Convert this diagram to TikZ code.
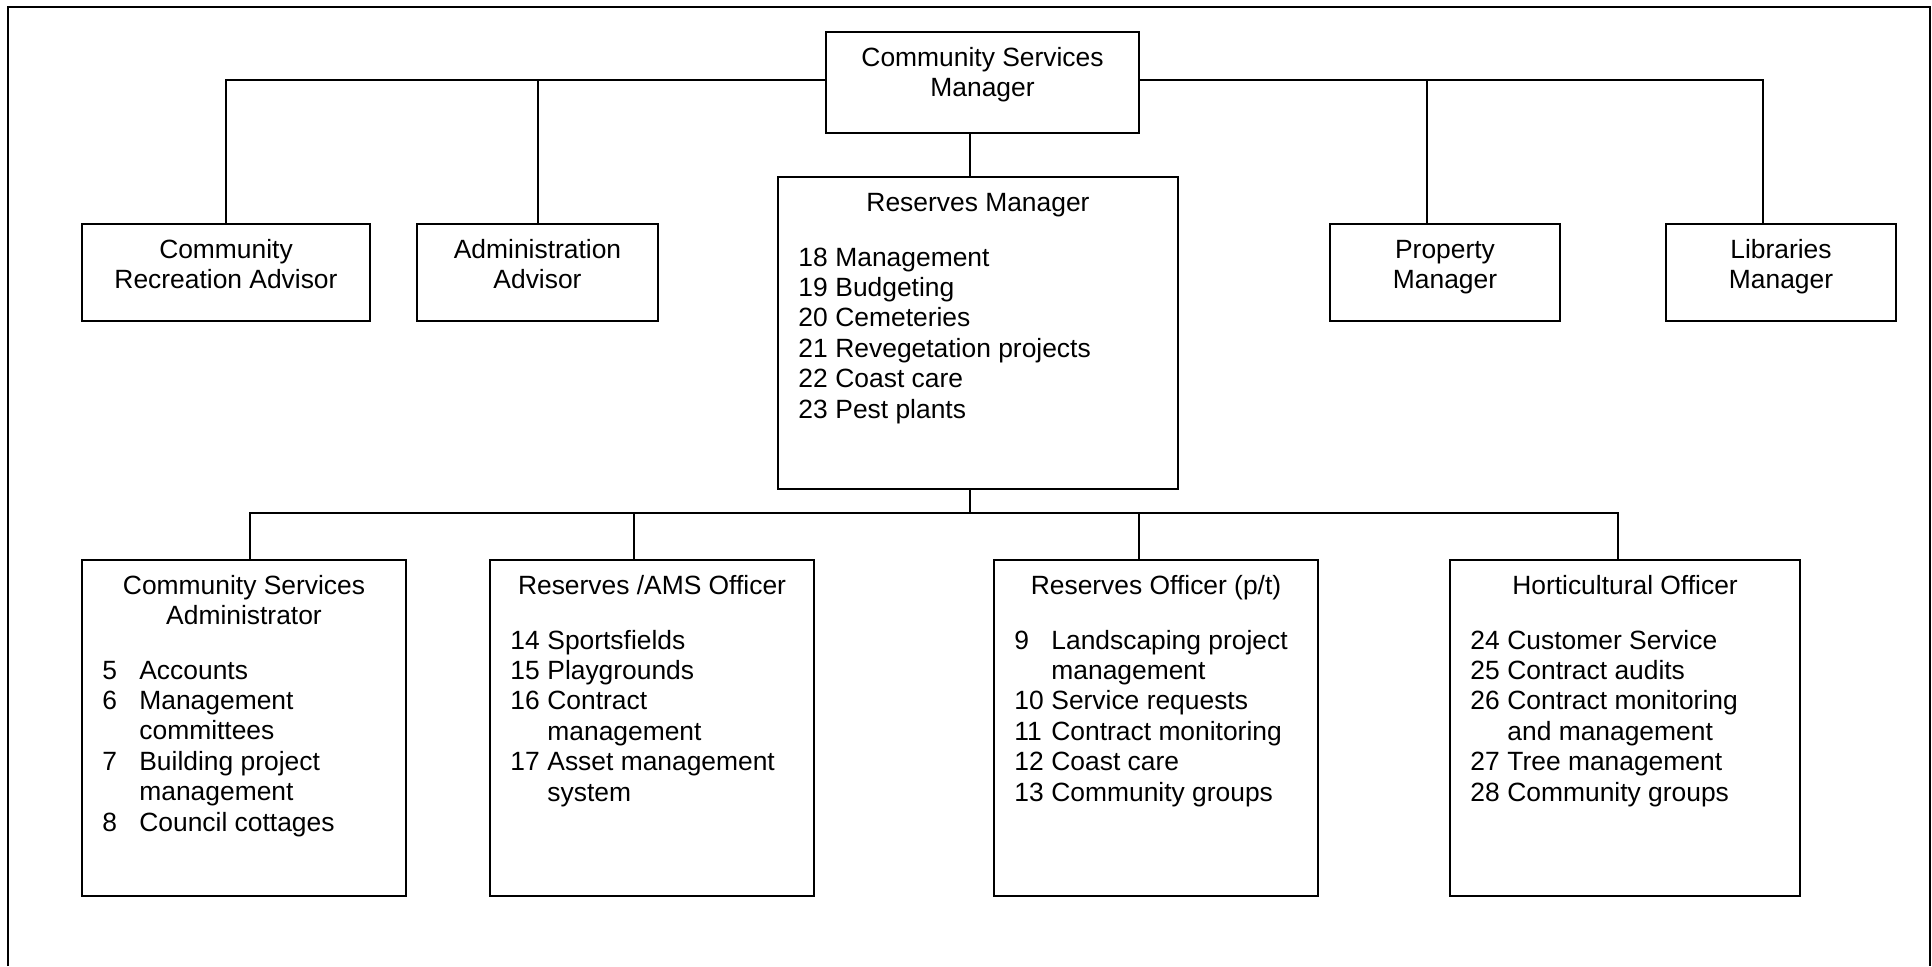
\documentclass[tikz,border=0pt]{standalone}
\usepackage{fontspec}
\setmainfont{Liberation Sans}
\usetikzlibrary{positioning,calc}
\newcommand{\duty}[2]{\makebox[18.5pt][l]{#1}#2}

\begin{document}
\begin{tikzpicture}[x=0.5pt, y=-0.5pt,
    every node/.style={font=\fontsize{13.2pt}{15.2pt}\selectfont},
    box/.style={draw, line width=1pt, inner sep=0pt},
    head/.style={anchor=base, inner sep=0pt},
    duties/.style={anchor=base west, inner sep=0pt},
    link/.style={line width=1pt}]
  \useasboundingbox (0,0) rectangle (1932,966);
  \draw[line width=1pt] (8,966) -- (8,7) -- (1930,7) -- (1930,966);

  % top row
  \node[box, minimum width=156.5pt, minimum height=50.5pt] (csm) at (982.5,82.5) {};
  \node[box, minimum width=144pt, minimum height=48.5pt] (cra) at (226,272.5) {};
  \node[box, minimum width=120.5pt, minimum height=48.5pt] (adm) at (537.5,272.5) {};
  \node[box, minimum width=115pt, minimum height=48.5pt] (prop) at (1445,272.5) {};
  \node[box, minimum width=115pt, minimum height=48.5pt] (lib) at (1781,272.5) {};
  \node[box, minimum width=200pt, minimum height=156pt] (rm) at (978,333) {};

  % bottom row
  \node[box, minimum width=162pt, minimum height=168pt] (csa) at (244,728) {};
  \node[box, minimum width=162pt, minimum height=168pt] (rams) at (652,728) {};
  \node[box, minimum width=162pt, minimum height=168pt] (ro) at (1156,728) {};
  \node[box, minimum width=175pt, minimum height=168pt] (ho) at (1625,728) {};

  % titles
  \node[head] (csm-t) at ([yshift=-17.5pt]csm.north)
    {\begin{tabular}[t]{@{}c@{}}Community Services\\Manager\end{tabular}};
  \node[head] (cra-t) at ([yshift=-17.5pt]cra.north)
    {\begin{tabular}[t]{@{}c@{}}Community\\Recreation Advisor\end{tabular}};
  \node[head] (adm-t) at ([yshift=-17.5pt]adm.north)
    {\begin{tabular}[t]{@{}c@{}}Administration\\Advisor\end{tabular}};
  \node[head] (prop-t) at ([yshift=-17.5pt]prop.north)
    {\begin{tabular}[t]{@{}c@{}}Property\\Manager\end{tabular}};
  \node[head] (lib-t) at ([yshift=-17.5pt]lib.north)
    {\begin{tabular}[t]{@{}c@{}}Libraries\\Manager\end{tabular}};
  \node[head] (rm-t) at ([yshift=-17.5pt]rm.north) {Reserves Manager};
  \node[head] (csa-t) at ([yshift=-17.5pt]csa.north)
    {\begin{tabular}[t]{@{}c@{}}Community Services\\Administrator\end{tabular}};
  \node[head] (rams-t) at ([yshift=-17.5pt]rams.north) {Reserves /AMS Officer};
  \node[head] (ro-t) at ([yshift=-17.5pt]ro.north) {Reserves Officer (p/t)};
  \node[head] (ho-t) at ([yshift=-17.5pt]ho.north) {Horticultural Officer};

  % duty lists
  \node[duties] (rm-l) at ([xshift=10.5pt, yshift=-45pt]rm.north west)
    {\begin{tabular}[t]{@{}l@{}}
      \duty{18}{Management}\\ \duty{19}{Budgeting}\\ \duty{20}{Cemeteries}\\
      \duty{21}{Revegetation projects}\\ \duty{22}{Coast care}\\ \duty{23}{Pest plants}
    \end{tabular}};
  \node[duties] (csa-l) at ([xshift=10.5pt, yshift=-60pt]csa.north west)
    {\begin{tabular}[t]{@{}l@{}}
      \duty{5}{Accounts}\\ \duty{6}{Management}\\ \duty{}{committees}\\
      \duty{7}{Building project}\\ \duty{}{management}\\ \duty{8}{Council cottages}
    \end{tabular}};
  \node[duties] (rams-l) at ([xshift=10.5pt, yshift=-45pt]rams.north west)
    {\begin{tabular}[t]{@{}l@{}}
      \duty{14}{Sportsfields}\\ \duty{15}{Playgrounds}\\ \duty{16}{Contract}\\
      \duty{}{management}\\ \duty{17}{Asset management}\\ \duty{}{system}
    \end{tabular}};
  \node[duties] (ro-l) at ([xshift=10.5pt, yshift=-45pt]ro.north west)
    {\begin{tabular}[t]{@{}l@{}}
      \duty{9}{Landscaping project}\\ \duty{}{management}\\ \duty{10}{Service requests}\\
      \duty{11}{Contract monitoring}\\ \duty{12}{Coast care}\\ \duty{13}{Community groups}
    \end{tabular}};
  \node[duties] (ho-l) at ([xshift=10.5pt, yshift=-45pt]ho.north west)
    {\begin{tabular}[t]{@{}l@{}}
      \duty{24}{Customer Service}\\ \duty{25}{Contract audits}\\ \duty{26}{Contract monitoring}\\
      \duty{}{and management}\\ \duty{27}{Tree management}\\ \duty{28}{Community groups}
    \end{tabular}};

  % connectors
  \coordinate (topw) at ([yshift=1.25pt]csm.west);
  \coordinate (tope) at ([yshift=1.25pt]csm.east);
  \draw[link] (cra.north) |- (topw);
  \draw[link] (adm.north) -- (adm.north |- topw);
  \draw[link] (tope) -| ([xshift=-9pt]lib.north);
  \draw[link] ([xshift=-9pt]prop.north) -- ([xshift=-9pt]prop.north |- tope);
  \draw[link] ([xshift=-6.25pt]csm.south) -- ([xshift=-6.25pt]csm.south |- rm.north);
  \draw[link] ([xshift=-4pt]rm.south) -- ++(0,23) coordinate (bus);
  \draw[link] ([xshift=3pt]csa.north) |- (bus) -| ([xshift=-3.5pt]ho.north);
  \draw[link] ([xshift=-9pt]rams.north) -- ([xshift=-9pt]rams.north |- bus);
  \draw[link] ([xshift=-8.5pt]ro.north) -- ([xshift=-8.5pt]ro.north |- bus);
\end{tikzpicture}
\end{document}
